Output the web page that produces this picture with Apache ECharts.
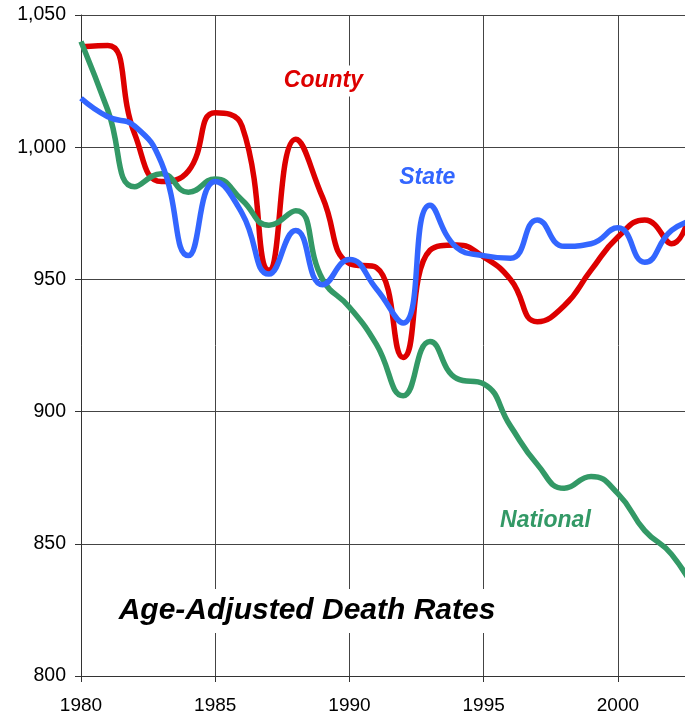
<!DOCTYPE html>
<html>
<head>
<meta charset="utf-8">
<script src="https://cdn.jsdelivr.net/npm/echarts@6/dist/echarts.min.js"></script>
<style>
html,body{margin:0;padding:0;background:#fff;}
#chart{width:685px;height:715px;}
</style>
</head>
<body>
<div id="chart"></div>
<script>
// Data
var years = [1980,1981,1982,1983,1984,1985,1986,1987,1988,1989,1990,1991,1992,1993,1994,1995,1996,1997,1998,1999,2000,2001,2002,2003];
var county = [1038,1038.5,1005,987,991,1013,1008,953.5,1003,981,956,954.5,920.5,961,963,958.5,950,934,940,953.5,966,972.5,963.5,993];
var state = [1018.5,1011.5,1008,994,959,987,975,952,968.5,948,957.5,946.5,933.5,978,962,959,958,972.5,962.5,963.5,969.5,956.5,968.5,973];
var national = [1040,1014,985,990,983,988,980,970.5,976,950,939.5,925.5,906,926.5,912.5,910.5,894.5,880,871,875.5,869,855,846,830];
var yTicks = [800,850,900,950,1000,1050];
var xTicks = [1980,1985,1990,1995,2000];
var labels = {county:'County', state:'State', national:'National', title:'Age-Adjusted Death Rates'};

function pairs(arr){ return years.map(function(y,i){ return [y, arr[i]]; }); }

var FONT = 'Liberation Sans, Arial, sans-serif';
var GRIDC = '#444';

function lbl(text, color, size, pad){
  return {
    show: true, position: 'inside', formatter: text,
    color: color, fontSize: size, fontWeight: 'bold', fontStyle: 'italic',
    fontFamily: FONT, backgroundColor: '#fff', padding: pad
  };
}
function mk(items){
  return {
    symbol: 'rect', symbolSize: 1, silent: true,
    itemStyle: {color: 'rgba(0,0,0,0)'},
    data: items
  };
}

var chart = echarts.init(document.getElementById('chart'), null, {renderer:'canvas'});
chart.setOption({
  animation: false,
  backgroundColor: '#fff',
  grid: {left: 81, top: 15, right: 0, bottom: 39, containLabel: false},
  xAxis: {
    type: 'value', min: 1980, max: 2002.5, interval: 5,
    axisLine: {show: true, lineStyle: {color: '#333', width: 1}},
    axisTick: {show: true, length: 6, lineStyle: {color: '#333'}},
    axisLabel: {
      show: true, fontSize: 19, color: '#000', fontFamily: FONT, margin: 20,
      showMaxLabel: false,
      formatter: function(v){ return xTicks.indexOf(v) >= 0 ? String(v) : ''; }
    },
    splitLine: {show: true, lineStyle: {color: GRIDC, width: 1}}
  },
  yAxis: {
    type: 'value', min: 800, max: 1050, interval: 50,
    axisLine: {show: true, lineStyle: {color: '#333', width: 1}},
    axisTick: {show: true, length: 6, lineStyle: {color: '#333'}},
    axisLabel: {
      fontSize: 19.5, color: '#000', fontFamily: FONT, margin: 15,
      formatter: function(v){ return yTicks.indexOf(v) >= 0 ? v.toLocaleString('en-US') : ''; }
    },
    splitLine: {show: true, lineStyle: {color: GRIDC, width: 1}}
  },
  series: [
    {
      name: 'National', type: 'line', smooth: 0.5, showSymbol: false, symbol: 'none',
      data: pairs(national), lineStyle: {color: '#339966', width: 5.5}, itemStyle: {color: '#339966'},
      markPoint: mk([
        {coord: [1997.3, 858.6], label: lbl(labels.national, '#339966', 23, [3,5,3,5])},
        {coord: [1988.42, 824.6], label: lbl(labels.title, '#000', 30, [7,6,7,6])}
      ])
    },
    {
      name: 'State', type: 'line', smooth: 0.5, showSymbol: false, symbol: 'none',
      data: pairs(state), lineStyle: {color: '#3366ff', width: 5.5}, itemStyle: {color: '#3366ff'},
      markPoint: mk([{coord: [1992.9, 988.4], label: lbl(labels.state, '#3366ff', 23, [4,6,4,6])}])
    },
    {
      name: 'County', type: 'line', smooth: 0.5, showSymbol: false, symbol: 'none',
      data: pairs(county), lineStyle: {color: '#dd0000', width: 5.5}, itemStyle: {color: '#dd0000'},
      z: 1,
      markPoint: mk([{coord: [1989.03, 1025], label: lbl(labels.county, '#dd0000', 23, [4,6,4,6])}])
    }
  ]
});
</script>
</body>
</html>
